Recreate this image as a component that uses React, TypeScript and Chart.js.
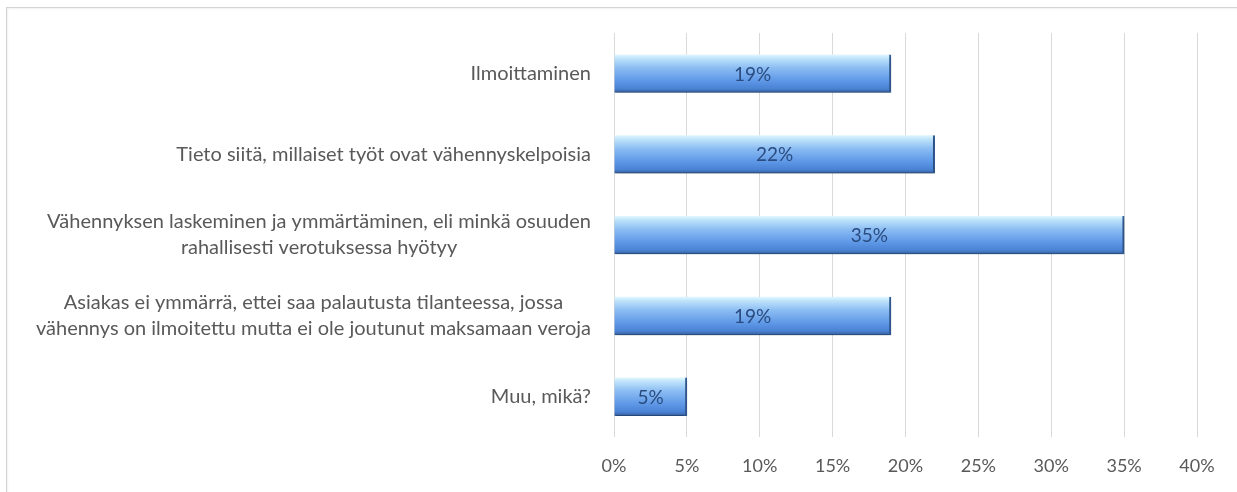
import React, { useEffect, useRef } from "react";
import { Chart, registerables } from "chart.js";

Chart.register(...registerables);

const categories: string[][] = [
  ["Ilmoittaminen"],
  ["Tieto siitä, millaiset työt ovat vähennyskelpoisia"],
  ["Vähennyksen laskeminen ja ymmärtäminen, eli minkä osuuden", "rahallisesti verotuksessa hyötyy"],
  ["Asiakas ei ymmärrä, ettei saa palautusta tilanteessa, jossa", "vähennys on ilmoitettu mutta ei ole joutunut maksamaan veroja"],
  ["Muu, mikä?"],
];
const values: number[] = [19, 22, 35, 19, 5];
const xTicks: number[] = [0, 5, 10, 15, 20, 25, 30, 35, 40];

const FONT = "Lato, 'Open Sans', sans-serif";
const LABEL_COLOR = "#595959";

const yLabelPlugin = {
  id: "yLabelPlugin",
  afterDraw(chart: any) {
    const ctx = chart.ctx;
    const yScale = chart.scales.y;
    const rightX = chart.chartArea.left - 23;
    ctx.save();
    ctx.font = `20px ${FONT}`;
    ctx.fillStyle = LABEL_COLOR;
    ctx.textAlign = "center";
    ctx.textBaseline = "middle";
    const lh = 26;
    categories.forEach((lines, i) => {
      const yc = yScale.getPixelForValue(i);
      const maxW = Math.max(...lines.map((l) => ctx.measureText(l).width));
      const cx = rightX - maxW / 2;
      const y0 = yc - ((lines.length - 1) * lh) / 2;
      lines.forEach((l, k) => ctx.fillText(l, cx, y0 + k * lh));
    });
    ctx.restore();
  },
};

const shadowPlugin = {
  id: "shadowPlugin",
  beforeDatasetsDraw(chart: any) {
    const ctx = chart.ctx;
    ctx.save();
    ctx.shadowColor = "rgba(0,0,0,0.28)";
    ctx.shadowBlur = 4;
    ctx.shadowOffsetX = 1;
    ctx.shadowOffsetY = 3;
  },
  afterDatasetsDraw(chart: any) {
    chart.ctx.restore();
  },
};

const valueLabelPlugin = {
  id: "valueLabelPlugin",
  afterDatasetsDraw(chart: any) {
    const ctx = chart.ctx;
    const meta = chart.getDatasetMeta(0);
    ctx.save();
    ctx.font = `19px ${FONT}`;
    ctx.fillStyle = "#2a4c80";
    ctx.textAlign = "center";
    ctx.textBaseline = "middle";
    meta.data.forEach((el: any, i: number) => {
      const cx = (el.x + el.base) / 2;
      ctx.fillText(`${values[i]}%`, cx, el.y + 1);
    });
    ctx.restore();
  },
};

export default function App() {
  const ref = useRef<HTMLCanvasElement | null>(null);
  useEffect(() => {
    if (!ref.current) return;
    const chart = new Chart(ref.current, {
      type: "bar",
      data: {
        labels: categories.map((c) => c.join(" ")),
        datasets: [
          {
            data: values,
            barThickness: 38,
            backgroundColor: (c: any) => {
              const ch = c.chart;
              const ys = ch.scales?.y;
              if (!ys || !ch.chartArea) return "#6aa2ea";
              const yc = ys.getPixelForValue(c.dataIndex);
              const g = ch.ctx.createLinearGradient(0, yc - 19, 0, yc + 19);
              g.addColorStop(0, "#e2f8ff");
              g.addColorStop(0.1, "#bfe4fb");
              g.addColorStop(0.35, "#8cbdf3");
              g.addColorStop(0.7, "#5d97e6");
              g.addColorStop(0.9, "#4b83d4");
              g.addColorStop(1, "#365f9e");
              return g;
            },
            borderColor: "#34609e",
            borderWidth: { top: 0, right: 2, bottom: 1, left: 0 },
            borderSkipped: false,
          },
        ],
      },
      options: {
        indexAxis: "y",
        animation: false,
        responsive: false,
        layout: { padding: { top: 33, right: 40, bottom: 15, left: 0 } },
        plugins: { legend: { display: false }, tooltip: { enabled: false } },
        scales: {
          x: {
            min: 0,
            max: 40,
            afterBuildTicks: (s: any) => {
              s.ticks = xTicks.map((v) => ({ value: v }));
            },
            afterFit: (s: any) => {
              s.height = 40;
            },
            grid: { color: "#d9d9d9", drawTicks: false, lineWidth: 1 },
            border: { display: false },
            ticks: {
              padding: 18,
              color: LABEL_COLOR,
              font: { family: FONT, size: 18 },
              callback: (v: any) => `${v}%`,
            },
          },
          y: {
            afterFit: (s: any) => {
              s.width = 614;
            },
            grid: { display: false },
            border: { display: false },
            ticks: { display: false },
          },
        },
      },
      plugins: [shadowPlugin, valueLabelPlugin, yLabelPlugin],
    } as any);
    return () => chart.destroy();
  }, []);

  return (
    <div style={{ position: "fixed", left: 0, top: 0, width: 1237, height: 492, background: "#fff", overflow: "hidden" }}>
      <div
        style={{
          position: "absolute",
          left: 6,
          top: 7,
          width: 1240,
          height: 490,
          border: "1px solid #d4d4d4",
          boxShadow: "inset 1px 1px 2px rgba(0,0,0,0.06)",
        }}
      />
      <canvas ref={ref} width={1237} height={492} style={{ position: "absolute", left: 0, top: 0 }} />
    </div>
  );
}
